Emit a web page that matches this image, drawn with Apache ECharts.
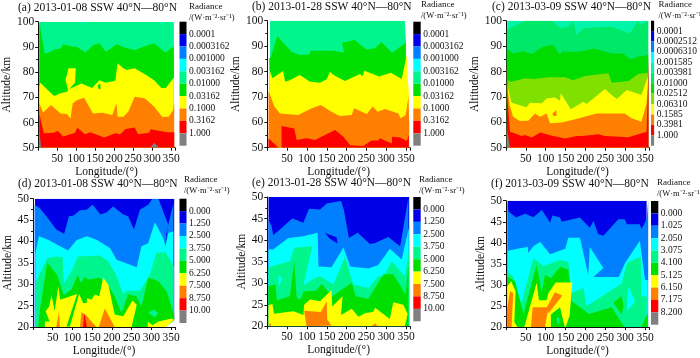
<!DOCTYPE html>
<html><head><meta charset="utf-8">
<style>html,body{margin:0;padding:0;background:#fff}#c{width:700px;height:358px}</style>
<script src="https://cdn.jsdelivr.net/npm/echarts@6/dist/echarts.min.js"></script>
</head><body><div id="c"></div>
<script>
const FONT = '"Liberation Serif","Times New Roman",serif';
const palette10 = ['#000000','#0000e8','#0080ff','#00ffff','#00f58c','#00e000','#ffff00','#ff8000','#ff0000','#808080'];
const palette12 = ['#000000','#0000e8','#0080ff','#00ffff','#00f5a8','#00e868','#00dc00','#80e000','#ffff00','#ff8000','#ff0000','#808080'];
const WHITE = '#ffffff';

const labelsLogA = ['0.0001','0.0003162','0.001000','0.003162','0.01000','0.03162','0.1000','0.3162','1.000'];
const labelsLogC = ['0.0001','0.0002512','0.0006310','0.001585','0.003981','0.01000','0.02512','0.06310','0.1585','0.3981','1.000'];
const labelsLinD = ['0.000','1.250','2.500','3.750','5.000','6.250','7.500','8.750','10.00'];
const labelsLinF = ['0.000','1.025','2.050','3.075','4.100','5.125','6.150','7.175','8.200'];
const lonTicks = [50,100,150,200,250,300,350];

/* contour boundaries, [longitude deg, altitude km] */
const a_base = [[3,100],[357,100]];
const a_green = [[3,100],[8,95.4],[17,87.4],[34,88.1],[42,89],[59,89.4],[66,91.1],[85,90.3],[102,90],[125,87.8],[144,90.7],[161,91.4],[178,88.1],[207,91.1],[229,89.7],[254,88.8],[280,90.3],[305,91.4],[335,87.7],[352,89.8],[357,90]];
const a_yellow = [[3,74.2],[6,75.8],[21,73.5],[42,70.5],[59,71.6],[76,72.2],[79,73.1],[114,75.5],[142,73.7],[161,76.8],[178,75.8],[203,76.6],[209,83.5],[224,81.5],[233,80.8],[254,81.5],[284,78.8],[305,76.8],[324,73.7],[336,73.7],[357,77.9]];
const a_yellowIsle = [[72,76.8],[80,81.5],[99,81.5],[97,75.8],[79,72.9]];
const a_greenIsle = [[157,75],[164,75.3],[164,73.1],[158,73.5]];
const a_orange = [[3,67.6],[13,64],[34,66.9],[59,63.6],[76,63.4],[85,61.6],[91,67.6],[103,68.9],[121,69.8],[144,63.6],[169,63.9],[195,63],[206,67.6],[209,62.3],[224,62.3],[237,64.3],[254,70.2],[280,69.6],[305,66.3],[326,62.3],[343,62.3],[355,64.9],[358,68]];
const a_red = [[3,66.3],[4,63],[15,55.7],[42,55.9],[51,56.7],[66,54.4],[97,55.9],[103,57.9],[123,55.3],[137,56.1],[174,54],[203,55.7],[216,55.3],[230,57.4],[254,58],[263,55.3],[292,55.9],[296,57.3],[339,56.1],[358,56.1]];
const a_grayLeft = [[2,58],[8,50],[2,50]];
const a_grayBump = [[295,50],[305,52],[318,50]];
const a_cyan1 = [[322,100],[325,98.8],[328,100]];
const a_cyan2 = [[110,100],[118,99.5],[122,100]];

const b_base = [[7,100],[347,100],[350,91]];
const b_green = [[5,85.2],[9,85.6],[25,94],[61,87.8],[82,86.5],[105,86.7],[110,88.2],[167,88.2],[194,87.5],[188,91.3],[221,92.4],[249,88.7],[270,89.1],[288,91.5],[315,87.4],[349,91.3]];
const b_yellow = [[5,80.8],[13,77.3],[40,80.2],[45,76],[57,76.6],[82,78.6],[108,76],[133,75.6],[150,76.9],[158,79.9],[167,78.6],[196,76.3],[234,79],[240,78],[245,80.3],[282,78],[312,79.5],[339,77],[352,86.5],[355,76],[358,70]];
const b_orange = [[3,72.4],[18,66.2],[32,63.5],[78,62.9],[112,65.5],[135,66.8],[162,64.2],[183,62.5],[213,62.9],[219,65.5],[251,63.3],[266,66.2],[278,64.2],[297,65.2],[331,63.5],[336,61.6],[349,62.9],[356,70.1],[358,60]];
const b_redLeft = [[3,53.7],[28,50],[3,50]];
const b_red = [[36,58.5],[68,57.6],[74,53],[99,53.7],[120,53],[171,57],[192,54.3],[209,51],[242,50.7],[263,52.8],[280,52.8],[284,53.7],[314,51.7],[315,54.3],[335,54],[352,52.6],[357,55]];

const c_base = [[3,100],[358,100]];
const c_seagreen = [[2,96.3],[48,100],[115,100],[136,97],[157,97.6],[169,100],[178,94.4],[195,97],[232,97.4],[266,97.6],[312,95],[333,100],[337,98.3],[358,100]];
const c_green = [[2,89.1],[18,87.1],[44,88],[65,86.9],[94,89.8],[119,90.4],[136,86.5],[140,87.8],[186,87.8],[220,89.1],[266,87.1],[295,87.1],[312,84.8],[333,85.8],[358,86.5]];
const c_lime = [[3,76.6],[13,76],[48,77.3],[69,77],[107,77.7],[149,77.7],[169,76.6],[199,78.2],[258,79.3],[266,75.6],[308,76.3],[333,79],[357,79.5]];
const c_yellow = [[3,75.3],[10,70],[14,67.7],[52,65.9],[60,67.7],[90,67.5],[102,69.4],[123,69.8],[136,68.5],[138,71.4],[163,65.1],[195,68.1],[203,67.2],[249,73.1],[266,70.7],[279,69.2],[304,72.7],[341,70.7],[357,78]];
const c_orange = [[3,74],[10,66.2],[18,62.2],[35,60.5],[56,60.6],[73,63.5],[86,62.2],[102,63.5],[111,59.6],[140,59.9],[174,61.2],[228,63.5],[299,63.5],[316,61.6],[341,60.2],[354,67.5],[358,74.7]];
const c_orangeIsle = [[117,63.5],[127,64.8],[127,62.5],[119,62.5]];
const c_red = [[2,84.5],[4,68.8],[10,56.3],[27,55.4],[39,54.6],[48,55],[65,54],[86,56],[119,54.6],[149,53.6],[178,54.6],[190,54.6],[216,55],[232,55.3],[249,54.6],[308,54.1],[341,55.7],[354,56.3],[357,72.7],[359,85.8]];
const c_gray = [[2,58],[10,50],[2,50]];

const d_base = [[5,50],[358,50]];
const d_blue = [[4,48.6],[17,47.8],[34,45.9],[59,42.8],[79,41.8],[91,45.9],[103,46.1],[119,47.3],[136,47.4],[151,48.6],[171,46.3],[186,46.8],[203,48.2],[229,46.3],[241,45.9],[256,42.8],[271,47.4],[292,48.6],[303,50],[318,50],[330,47],[343,43.9],[356,49]];
const d_darkSliver = [[341,44],[335,39.2],[340,41.6]];
const d_cyan = [[6,37.3],[15,41.2],[38,40.4],[89,37.9],[110,40.3],[136,41.2],[161,40.4],[195,38.5],[212,35.7],[263,34],[275,38.9],[292,39.6],[309,44.5],[330,40.8],[336,38.9],[343,42],[356,42.4]];
const d_spring = [[8,30.7],[36,36.1],[59,36.5],[75,36.3],[78,30.1],[97,33],[114,36.5],[169,36.7],[191,35.4],[212,31.9],[229,27.6],[237,28.5],[271,28.5],[296,32.2],[313,37.3],[336,37.5],[357,34.2]];
const d_green = [[13,20.2],[17,23.7],[36,35.1],[61,32.2],[78,27.4],[97,28.7],[114,32.2],[121,30.3],[131,31.7],[140,31.1],[169,31.6],[195,29.1],[207,27.2],[224,23.3],[241,27.6],[262,27.2],[275,24.8],[292,31.5],[318,30.7],[339,28.3],[358,22.7]];
const d_springIsle = [[292,23.3],[306,24.1],[318,23.3],[309,22.3]];
const d_yellow = [[30,21.3],[42,21.3],[32,23.7],[41,24.8],[47,27.4],[55,23.7],[64,29.5],[69,26.4],[112,27.7],[85,20.2],[93,20],[117,27.7],[127,25.6],[136,25.6],[137,26.8],[148,26.4],[157,27.6],[168,27.2],[178,31.6],[191,29.9],[207,22.9],[229,22.5],[252,26.2],[263,25.2],[250,20]];
const d_yellowRight = [[291,21.2],[303,20.4],[318,21.3],[352,22],[357,21.7],[339,20]];
const d_orangeSpike = [[59,20],[66,23.7],[68,20]];
const d_orange1 = [[119,20],[123,23.5],[137,22.5],[148,21.3],[161,20]];
const d_orange2 = [[167,20],[182,24.4],[207,20]];
const d_red = [[127,20],[130,23.3],[137,20]];
const d_corner = [[337,20],[360,21.7],[360,20]];

const e_base = [[3,50],[358,50]];
const e_blue = [[3,44.7],[11,43.2],[15,41.1],[63,45],[91,44],[105,47.3],[133,47.1],[150,48.5],[186,49.1],[193,47.1],[206,40.5],[228,41.7],[259,39.1],[272,39.3],[305,40.7],[335,38.6],[356,49.8]];
const e_darkIsle = [[145,41.7],[175,40.6],[177,39.2],[158,40.3]];
const e_cyan = [[3,37.9],[15,37.8],[53,40.5],[91,40.9],[127,41.7],[129,33.9],[162,33.7],[192,38.3],[209,33.9],[255,33.4],[280,34.2],[309,38],[339,35.5],[357,42.8]];
const e_spring = [[3,33.7],[57,35.1],[68,38.2],[114,38.6],[91,29.5],[120,31.2],[133,31.6],[167,29.7],[196,36.2],[217,29.7],[255,28.9],[280,31.6],[294,31.6],[314,35.1],[347,31.6],[358,37.8]];
const e_cyanIsle = [[28,31.8],[38,31.2],[29,29.1]];
const e_green = [[3,29.3],[21,29.7],[24,26],[57,27],[68,35.1],[74,26.7],[84,26.2],[91,28.1],[124,28.3],[137,29.8],[164,27],[213,30.1],[223,27],[255,26.4],[293,32.1],[318,32.1],[349,27.4],[356,34.3]];
const e_yellow = [[3,24.9],[13,25.2],[17,22.9],[66,23.5],[91,22.6],[93,25],[108,26.2],[133,25.8],[162,28.4],[164,24.6],[190,27],[186,22.6],[213,24.1],[230,22.2],[248,23.1],[267,23.3],[272,24.3],[309,21.7],[318,25.6],[343,25],[354,22.9],[347,20]];
const e_orange1 = [[3,20.3],[8,20.8],[9,20]];
const e_orange2 = [[99,20],[93,23.6],[135,23.3],[150,25.8],[151,21.6],[162,20.2]];
const e_orange3 = [[263,20],[272,20.7],[278,20]];

const f_base = [[4,50],[354,50]];
const f_blue = [[4,50],[6,47.5],[25,46],[48,46.9],[69,46.1],[90,47.8],[111,44.8],[117,46.5],[136,46],[140,45],[186,46],[211,43.6],[220,45.2],[232,42.1],[245,41.7],[283,45.6],[299,45.6],[304,44.4],[337,44.4],[341,43.3],[354,45.6],[358,50]];
const f_cyan = [[4,38.1],[39,38.8],[55,39],[56,37.6],[69,39.2],[86,40.2],[111,37.3],[149,38.6],[157,41.2],[186,41.2],[207,32.4],[211,39],[245,34],[220,31.9],[284,31.9],[300,35.3],[337,40.5],[350,31.2],[357,31.2]];
const f_spring = [[3,33.2],[18,32],[38,25.4],[69,36.4],[94,34.5],[117,35.3],[136,35.9],[157,35.5],[165,28.1],[195,29.3],[203,25],[291,30.3],[305,35.3],[339,36.7],[341,27.4],[354,27.2]];
const f_cyanIsle = [[308,29.7],[325,26],[304,23.7]];
const f_green = [[3,32],[23,30.9],[44,23.1],[77,34.7],[86,30.5],[90,28.1],[98,32.4],[113,31.6],[136,34.3],[157,33.6],[165,26.2],[186,24.7],[209,23.1],[266,24.7],[298,20],[340,20],[357,23.3]];
const f_greenIsle = [[270,25.8],[291,27.4],[296,25],[291,23]];
const f_yellowLeft = [[3,29.7],[13,30.9],[24,28.5],[21,21.2],[29,20]];
const f_yellow = [[46,20],[77,30.5],[83,26.4],[102,26.4],[107,28.1],[125,30.6],[167,30.6],[160,22.7],[150,20]];
const f_orangeLeft = [[2,23.9],[10,28.5],[18,28.1],[14,20]];
const f_orangeMain = [[63,20],[67,24.7],[107,24.7],[98,20]];
const f_orangeArm = [[103,24.7],[123,28.3],[142,27.5],[107,23.3]];
const f_greenBlock = [[113,23],[136,24.7],[148,20],[122,20]];
const f_springDot = [[127,22],[133,22.5],[135,21],[130,20.8]];

const P10 = palette10, P12 = palette12;
/* [colour, boundary, isClosedRing] */
const panels = [
 {title:'(a) 2013-01-08 SSW 40°N—80°N', tx:18, ty:8.5, hx:189, hy:[7,18], plot:[33,175,21.7,147.7], bar:[179.5,186.5,21.7,145.7], y:[50,100,10], ticks:labelsLogA, pal:P10,
  layers:[[P10[4],a_base],[P10[3],a_cyan1,1],[P10[3],a_cyan2,1],[P10[5],a_green],[P10[6],a_yellow],[P10[6],a_yellowIsle,1],[P10[5],a_greenIsle,1],[P10[7],a_orange],[P10[8],a_red],[P10[9],a_grayLeft,1],[P10[9],a_grayBump,1]]},
 {title:'(b) 2013-01-28 SSW 40°N—80°N', tx:252, ty:7.5, hx:421, hy:[5,16], plot:[267.3,410,20.7,147.7], bar:[413.3,420.7,21.7,145.7], y:[50,100,10], ticks:labelsLogA, pal:P10,
  layers:[[P10[4],b_base],[P10[5],b_green],[P10[6],b_yellow],[P10[7],b_orange],[P10[8],b_redLeft,1],[P10[8],b_red]]},
 {title:'(c) 2013-03-09 SSW 40°N—80°N', tx:492, ty:7.5, hx:658.5, hy:[5,16], plot:[506,649,20.7,147.7], bar:[651,658.3,20.7,145.7], y:[50,100,10], ticks:labelsLogC, pal:P12,
  layers:[[P12[4],c_base],[P12[5],c_seagreen],[P12[6],c_green],[P12[7],c_lime],[P12[8],c_yellow],[P12[9],c_orange],[P12[9],c_orangeIsle,1],[P12[10],c_red],[P12[11],c_gray,1]]},
 {title:'(d) 2013-01-08 SSW 40°N—80°N', tx:18, ty:185, hx:184, hy:[180,191], plot:[33,175,198.7,327], bar:[179.5,186.5,198.7,323], y:[20,50,5], ticks:labelsLinD, pal:P10,
  layers:[[P10[1],d_base],[P10[2],d_blue],[P10[1],d_darkSliver,1],[P10[3],d_cyan],[P10[4],d_spring],[P10[5],d_green],[P10[4],d_springIsle,1],[P10[6],d_yellow],[P10[6],d_yellowRight],[P10[7],d_orangeSpike,1],[P10[7],d_orange1,1],[P10[7],d_orange2,1],[P10[8],d_red,1],[WHITE,d_corner,1]]},
 {title:'(e) 2013-01-28 SSW 40°N—80°N', tx:252, ty:184, hx:419, hy:[180,191], plot:[267.3,410,197,326.3], bar:[413.3,420.7,197,321.3], y:[20,50,5], ticks:labelsLinD, pal:P10,
  layers:[[P10[1],e_base],[P10[2],e_blue],[P10[1],e_darkIsle,1],[P10[3],e_cyan],[P10[4],e_spring],[P10[3],e_cyanIsle,1],[P10[5],e_green],[P10[6],e_yellow],[P10[7],e_orange1,1],[P10[7],e_orange2,1],[P10[7],e_orange3,1]]},
 {title:'(f) 2013-03-09 SSW 40°N—80°N', tx:491, ty:185, hx:657, hy:[183,194], plot:[506,649,200.7,329.7], bar:[651,658.3,201,324.7], y:[20,50,5], ticks:labelsLinF, pal:P10,
  layers:[[P10[1],f_base],[P10[2],f_blue],[P10[3],f_cyan],[P10[4],f_spring],[P10[3],f_cyanIsle,1],[P10[5],f_green],[P10[5],f_greenIsle,1],[P10[6],f_yellowLeft],[P10[6],f_yellow],[P10[7],f_orangeLeft],[P10[7],f_orangeMain],[P10[7],f_orangeArm,1],[P10[5],f_greenBlock],[P10[4],f_springDot,1]]}
];

const W=700,H=358;
const grid=[],xAxis=[],yAxis=[],series=[],title=[];
const ts=(size)=>({fontFamily:FONT,fontSize:size,fontWeight:'normal',color:'#111'});
panels.forEach(p=>{
  const [x0,x1,y0,y1]=p.plot, [ymin,ymax,yint]=p.y;
  title.push({text:p.title,left:p.tx,top:p.ty-7,padding:0,textStyle:ts(11.5)});
  title.push({text:'Radiance',left:p.hx,top:p.hy[0]-5,padding:0,textStyle:ts(9)});
  title.push({text:'/(W·m⁻²·sr⁻¹)',left:p.hx,top:p.hy[1]-5,padding:0,textStyle:ts(8.5)});
  const gi=grid.length;
  grid.push({left:x0,top:y0,width:x1-x0,height:y1-y0});
  xAxis.push({gridIndex:gi,type:'value',min:0,max:360,interval:50,
    name:'Longitude/(°)',nameLocation:'middle',nameGap:17,nameTextStyle:ts(11.5),
    axisLine:{lineStyle:{color:'#111',width:1}},axisTick:{length:3,lineStyle:{color:'#111'}},
    splitLine:{show:false},axisLabel:{...ts(11.5),margin:5,formatter:v=>lonTicks.includes(v)?String(v):''}});
  yAxis.push({gridIndex:gi,type:'value',min:ymin,max:ymax,interval:yint,
    name:'Altitude/km',nameLocation:'middle',nameGap:16,nameTextStyle:ts(11.5),
    axisLine:{show:true,lineStyle:{color:'#111',width:1}},axisTick:{show:true,length:3,lineStyle:{color:'#111'}},
    minorTick:{show:true,splitNumber:2,length:2,lineStyle:{color:'#111'}},
    splitLine:{show:false},axisLabel:{...ts(11.5),margin:4}});
  p.layers.forEach(([color,pts,ring])=>{
    const poly=ring?pts:pts.concat([[pts[pts.length-1][0],ymin],[pts[0][0],ymin]]);
    series.push({type:'custom',coordinateSystem:'cartesian2d',xAxisIndex:gi,yAxisIndex:gi,clip:true,silent:true,animation:false,
      encode:{x:0,y:1},data:poly,
      renderItem:(params,api)=>params.dataIndex!==0?null:{type:'polygon',shape:{points:poly.map(q=>api.coord(q))},style:{fill:color}}});
  });
  // colour bar
  const [bx0,bx1,by0,by1]=p.bar, n=p.pal.length, bi=grid.length;
  grid.push({left:bx0,top:by0,width:bx1-bx0,height:by1-by0});
  xAxis.push({gridIndex:bi,type:'category',data:['c'],show:false});
  yAxis.push({gridIndex:bi,type:'value',min:0,max:n,interval:1,inverse:true,position:'right',
    axisLine:{show:false},axisTick:{show:false},splitLine:{show:false},
    axisLabel:{...ts(9.5),margin:2.5,formatter:v=>p.ticks[v-1]||''}});
  p.pal.forEach((col,i)=>series.push({type:'bar',xAxisIndex:bi,yAxisIndex:bi,stack:'cb'+bi,barWidth:'100%',silent:true,animation:false,
    itemStyle:{color:col},data:[1]}));
});
const chart=echarts.init(document.getElementById('c'),null,{renderer:'canvas',width:W,height:H});
chart.setOption({animation:false,backgroundColor:'#fff',tooltip:{show:false},title,grid,xAxis,yAxis,series});
</script></body></html>
